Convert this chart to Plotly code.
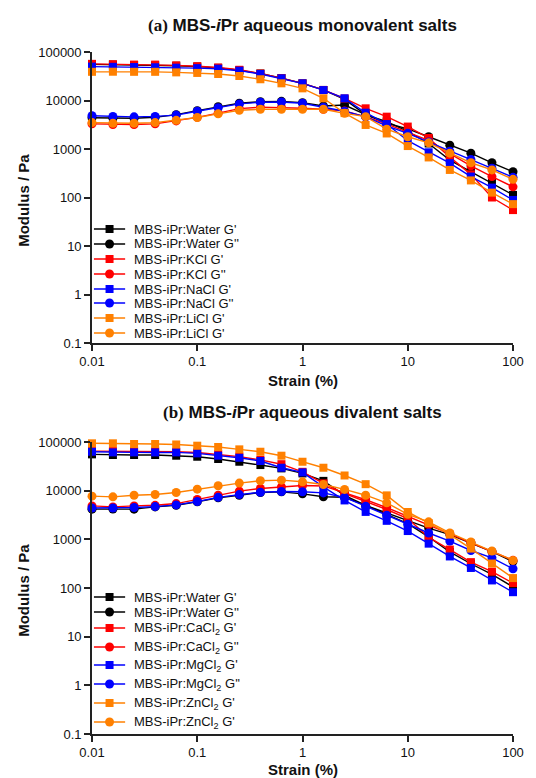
import plotly.graph_objects as go

# ---------------- data ----------------
STRAIN = [0.01, 0.0158, 0.0251, 0.0398, 0.0631, 0.1, 0.158, 0.251, 0.398, 0.631,
          1.0, 1.58, 2.51, 3.98, 6.31, 10.0, 15.8, 25.1, 39.8, 63.1, 100.0]

# (a) monovalent salts
a_water_Gp = [55700, 55000, 54000, 53000, 52000, 50000, 47000, 42000, 36000, 29000, 22500,
              16500, 10500, 5100, 3680, 2300, 1300, 590, 340, 200, 113]
a_water_Gpp = [4400, 4300, 4300, 4500, 5100, 6170, 7460, 8760, 9460, 9600, 9020,
               7690, 8070, 5100, 3400, 2600, 1790, 1200, 820, 520, 340]
a_kcl_Gp = [57000, 56000, 55000, 55000, 53000, 51000, 48000, 43000, 36000, 29000, 22500,
            16500, 11000, 6900, 4640, 2900, 1690, 680, 300, 100, 55]
a_kcl_Gpp = [3300, 3200, 3200, 3300, 3800, 4500, 5500, 6800, 7300, 7200, 6900,
             6600, 6100, 4600, 3300, 2200, 1500, 800, 450, 270, 166]
a_nacl_Gp = [50000, 49500, 49000, 48500, 47500, 46500, 45300, 41200, 35200, 28700, 22600,
             16400, 11100, 5600, 3270, 1480, 855, 510, 270, 160, 89]
a_nacl_Gpp = [4860, 4700, 4600, 4700, 5000, 6000, 7100, 8500, 9200, 9300, 8800,
              7300, 6000, 4600, 3000, 2100, 1400, 900, 610, 400, 260]
a_licl_Gp = [39000, 39200, 39000, 39000, 38000, 37000, 35200, 32000, 27400, 22600, 17800,
             11100, 5500, 3130, 2090, 1150, 670, 370, 225, 126, 73]
a_licl_Gpp = [3500, 3400, 3400, 3500, 3900, 4470, 5300, 6300, 6600, 6600, 6600,
              6600, 5440, 4640, 2560, 1790, 1340, 820, 520, 370, 237]

# (b) divalent salts
b_water_Gp = [55700, 54000, 54000, 54000, 52300, 49800, 44700, 39300, 33600, 28700, 22600,
              15900, 8000, 5000, 3270, 2100, 1120, 550, 315, 190, 105]
b_water_Gpp = [4170, 4200, 4170, 4640, 5010, 5890, 7130, 8070, 9160, 9460, 8600,
               7500, 7300, 5000, 3500, 2400, 1700, 1250, 850, 560, 350]
b_cacl_Gp = [65000, 65000, 65000, 64000, 63000, 61000, 56000, 50000, 43000, 35000, 24400,
             14100, 8700, 5900, 4100, 2670, 1100, 617, 340, 216, 126]
b_cacl_Gpp = [4860, 4640, 4860, 5000, 5430, 6570, 8070, 9770, 11100, 12000, 12800,
              12500, 9000, 6500, 4500, 3000, 2000, 1300, 850, 560, 370]
b_mgcl_Gp = [63100, 61200, 61200, 61000, 61200, 58400, 52300, 47500, 40700, 29600, 23700,
             12000, 6300, 3660, 2400, 1480, 815, 445, 258, 143, 82]
b_mgcl_Gpp = [4400, 4400, 4500, 4700, 5100, 6000, 7300, 8300, 9300, 9600, 9500,
              9000, 7250, 4800, 3130, 2040, 1350, 920, 590, 417, 249]
b_zncl_Gp = [94000, 94000, 91000, 91000, 89000, 84000, 78900, 70600, 63100, 52300, 39300,
             29600, 20500, 13600, 8000, 3650, 2150, 1250, 645, 318, 160]
b_zncl_Gpp = [7710, 7460, 8070, 8340, 9160, 10740, 12600, 14300, 15960, 16450, 15200,
              13400, 10600, 8070, 5630, 3270, 2290, 1350, 880, 574, 369]

X_TICKS = [0.01, 0.1, 1, 10, 100]
X_TICK_TEXT = ["0.01", "0.1", "1", "10", "100"]
Y_TICKS = [0.1, 1, 10, 100, 1000, 10000, 100000]
Y_TICK_TEXT = ["0.1", "1", "10", "100", "1000", "10000", "100000"]

BLACK, RED, BLUE, ORANGE = "#000000", "#FF0000", "#0000FF", "#FF8000"

series_a = [
    ("MBS-iPr:Water G'", a_water_Gp, BLACK, "square"),
    ("MBS-iPr:Water G''", a_water_Gpp, BLACK, "circle"),
    ("MBS-iPr:KCl G'", a_kcl_Gp, RED, "square"),
    ("MBS-iPr:KCl G''", a_kcl_Gpp, RED, "circle"),
    ("MBS-iPr:NaCl G'", a_nacl_Gp, BLUE, "square"),
    ("MBS-iPr:NaCl G''", a_nacl_Gpp, BLUE, "circle"),
    ("MBS-iPr:LiCl G'", a_licl_Gp, ORANGE, "square"),
    ("MBS-iPr:LiCl G'", a_licl_Gpp, ORANGE, "circle"),
]
series_b = [
    ("MBS-iPr:Water G'", b_water_Gp, BLACK, "square"),
    ("MBS-iPr:Water G''", b_water_Gpp, BLACK, "circle"),
    ("MBS-iPr:CaCl<sub>2</sub> G'", b_cacl_Gp, RED, "square"),
    ("MBS-iPr:CaCl<sub>2</sub> G''", b_cacl_Gpp, RED, "circle"),
    ("MBS-iPr:MgCl<sub>2</sub> G'", b_mgcl_Gp, BLUE, "square"),
    ("MBS-iPr:MgCl<sub>2</sub> G''", b_mgcl_Gpp, BLUE, "circle"),
    ("MBS-iPr:ZnCl<sub>2</sub> G'", b_zncl_Gp, ORANGE, "square"),
    ("MBS-iPr:ZnCl<sub>2</sub> G'", b_zncl_Gpp, ORANGE, "circle"),
]

# ---------------- layout geometry (pixels) ----------------
W, H = 536, 778
L, R, T, B = 92, 12, 52, 44
PW, PH = W - L - R, H - T - B
PLOT_BOTTOM = H - B


def py2paper(py):
    return (PLOT_BOTTOM - py) / PH


def px2paper(px):
    return (px - L) / PW


dom_a = [py2paper(343), 1.0]
dom_b = [0.0, py2paper(442)]

fig = go.Figure()
for name, ys, col, sym in series_a:
    fig.add_trace(go.Scatter(x=STRAIN, y=ys, name=name, mode="lines+markers",
                             line=dict(color=col, width=1.4),
                             marker=dict(color=col, symbol=sym, size=8 if sym == "square" else 9,
                                         line=dict(width=0)),
                             cliponaxis=False, showlegend=False, xaxis="x", yaxis="y"))
for name, ys, col, sym in series_b:
    fig.add_trace(go.Scatter(x=STRAIN, y=ys, name=name, mode="lines+markers",
                             line=dict(color=col, width=1.4),
                             marker=dict(color=col, symbol=sym, size=8 if sym == "square" else 9,
                                         line=dict(width=0)),
                             cliponaxis=False, showlegend=False, xaxis="x2", yaxis="y2"))

TICKFONT = dict(family="Liberation Sans, Arial, sans-serif", size=13, color="#111")
axis_common = dict(type="log", showgrid=False, zeroline=False, showline=True,
                   linecolor="#222", linewidth=1.6, ticks="outside", ticklen=6,
                   tickwidth=1.6, tickcolor="#222", tickfont=TICKFONT, mirror=False)

fig.update_layout(
    width=W, height=H,
    margin=dict(l=L, r=R, t=T, b=B),
    paper_bgcolor="white", plot_bgcolor="white",
    xaxis=dict(axis_common, domain=[0, 1], anchor="y", range=[-2, 2],
               tickvals=X_TICKS, ticktext=X_TICK_TEXT),
    yaxis=dict(axis_common, domain=dom_a, anchor="x", range=[-1, 5],
               tickvals=Y_TICKS, ticktext=Y_TICK_TEXT),
    xaxis2=dict(axis_common, domain=[0, 1], anchor="y2", range=[-2, 2],
                tickvals=X_TICKS, ticktext=X_TICK_TEXT),
    yaxis2=dict(axis_common, domain=dom_b, anchor="x2", range=[-1, 5],
                tickvals=Y_TICKS, ticktext=Y_TICK_TEXT),
)

annotations = []
shapes = []

TITLE_FONT = dict(family="Liberation Sans, Arial, sans-serif", size=17, color="#111")
SERIF = "font-family:Liberation Serif"
annotations.append(dict(
    text=f"<b><span style=\"{SERIF}\">(a)</span> MBS-<i>i</i>Pr aqueous monovalent salts</b>",
    x=0.5, y=py2paper(25), xref="paper", yref="paper", showarrow=False,
    xanchor="center", yanchor="middle", font=TITLE_FONT))
annotations.append(dict(
    text=f"<b><span style=\"{SERIF}\">(b)</span> MBS-<i>i</i>Pr aqueous divalent salts</b>",
    x=0.5, y=py2paper(412), xref="paper", yref="paper", showarrow=False,
    xanchor="center", yanchor="middle", font=TITLE_FONT))

AX_FONT = dict(family="Liberation Sans, Arial, sans-serif", size=15, color="#111")
for py in (380, 769):
    annotations.append(dict(text="<b>Strain (%)</b>", x=0.5, y=py2paper(py), xref="paper",
                            yref="paper", showarrow=False, xanchor="center", yanchor="middle",
                            font=AX_FONT))
YT_FONT = dict(family="Liberation Sans Narrow, Liberation Sans, Arial, sans-serif", size=15,
               color="#111")
for py in (200, 590):
    annotations.append(dict(text="<b>Modulus / Pa</b>", x=px2paper(21), y=py2paper(py),
                            xref="paper", yref="paper", showarrow=False, textangle=-90,
                            xanchor="center", yanchor="middle", font=YT_FONT))

# manual legends
LEG_FONT = dict(family="Liberation Sans, Arial, sans-serif", size=13, color="#111")
leg_rows_a = [229, 244, 259, 274, 289, 303, 318, 333]
leg_rows_b = [597, 612, 628, 647, 665, 684, 703, 722]
for series, rows in ((series_a, leg_rows_a), (series_b, leg_rows_b)):
    for (name, _, col, sym), py in zip(series, rows):
        yp = py2paper(py)
        shapes.append(dict(type="line", xref="paper", yref="paper",
                           x0=px2paper(94), x1=px2paper(126), y0=yp, y1=yp,
                           line=dict(color=col, width=1.5)))
        half = 4 if sym == "square" else 4.5
        shapes.append(dict(type="rect" if sym == "square" else "circle",
                           xref="paper", yref="paper",
                           xsizemode="pixel", ysizemode="pixel",
                           xanchor=px2paper(110), yanchor=yp,
                           x0=-half, x1=half, y0=-half, y1=half,
                           fillcolor=col, line=dict(color=col, width=0)))
        annotations.append(dict(text=name, x=px2paper(133), y=yp, xref="paper", yref="paper",
                                showarrow=False, xanchor="left", yanchor="middle",
                                font=LEG_FONT))

fig.update_layout(annotations=annotations, shapes=shapes)
fig.write_html("out.html", config={"displayModeBar": False},
               post_script="document.body.style.margin='0';document.body.style.padding='0';"
                           "document.body.style.overflow='hidden';")
